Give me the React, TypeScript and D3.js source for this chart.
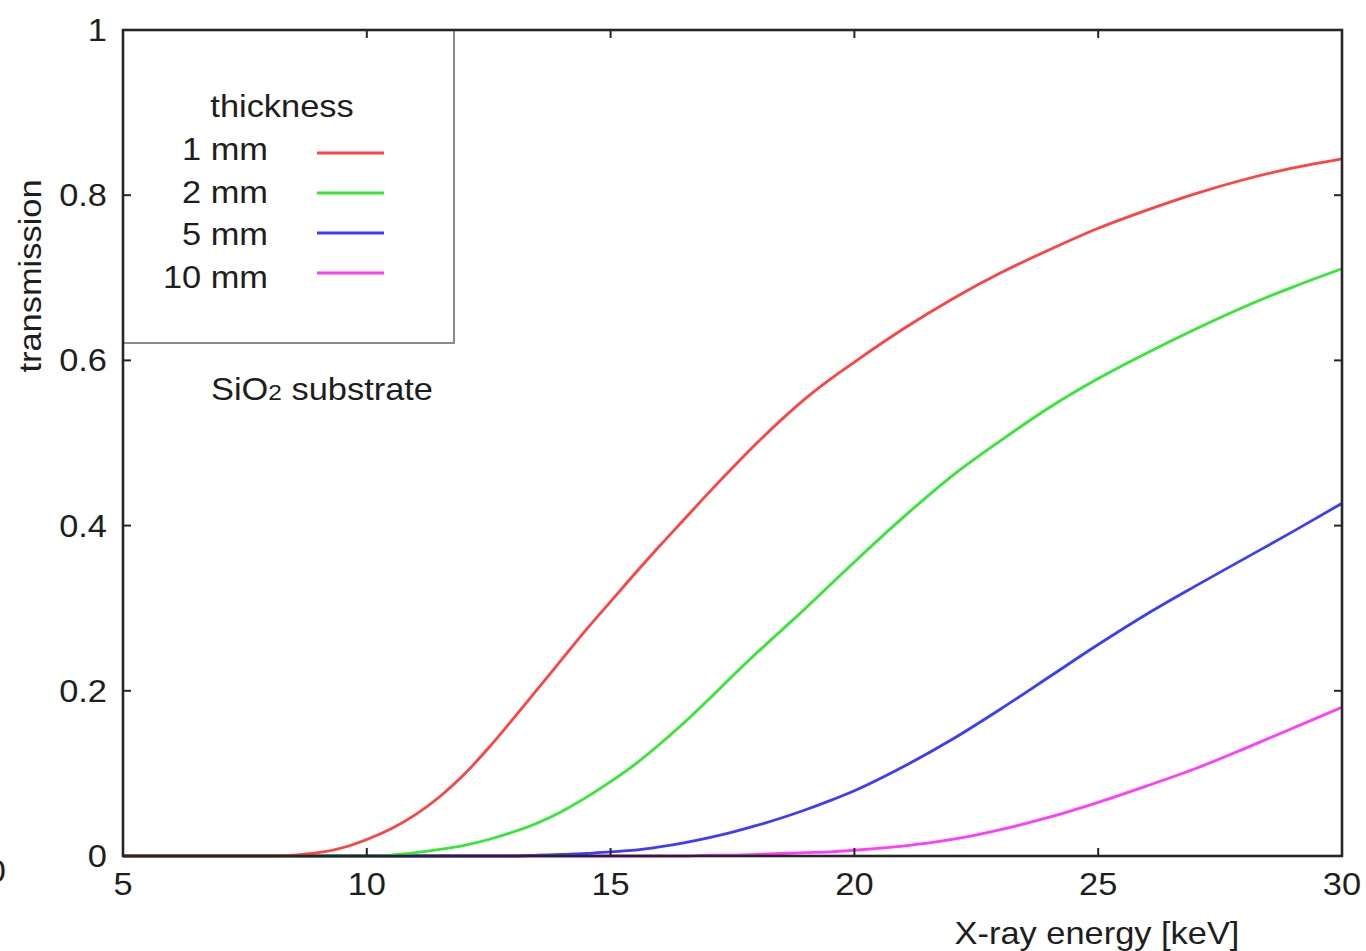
import React from "react";
import * as d3 from "d3";

const energy = [5, 6, 7, 8, 8.5, 9, 9.5, 10, 10.5, 11, 11.5, 12, 12.5, 13, 13.5, 14, 14.5, 15, 15.5, 16, 16.5, 17, 17.5, 18, 18.5, 19, 19.5, 20, 21, 22, 23, 24, 25, 26, 27, 28, 29, 30];

const t1mm = [0, 0, 0, 0, 0.001, 0.004, 0.01, 0.02, 0.033, 0.05, 0.072, 0.099, 0.131, 0.166, 0.202, 0.238, 0.274, 0.308, 0.342, 0.375, 0.407, 0.439, 0.47, 0.5, 0.528, 0.554, 0.577, 0.598, 0.638, 0.674, 0.706, 0.734, 0.76, 0.782, 0.802, 0.819, 0.833, 0.844];
const t2mm = [0, 0, 0, 0, 0, 0, 0, 0, 0.001, 0.004, 0.008, 0.013, 0.02, 0.029, 0.04, 0.054, 0.071, 0.09, 0.111, 0.135, 0.161, 0.189, 0.218, 0.246, 0.273, 0.3, 0.328, 0.356, 0.41, 0.46, 0.503, 0.543, 0.578, 0.609, 0.638, 0.665, 0.689, 0.711];
const t5mm = [0, 0, 0, 0, 0, 0, 0, 0, 0, 0, 0, 0, 0, 0, 0.001, 0.002, 0.003, 0.005, 0.007, 0.011, 0.016, 0.022, 0.029, 0.037, 0.046, 0.056, 0.067, 0.079, 0.108, 0.141, 0.178, 0.217, 0.256, 0.293, 0.327, 0.36, 0.393, 0.427];
const t10mm = [0, 0, 0, 0, 0, 0, 0, 0, 0, 0, 0, 0, 0, 0, 0, 0, 0, 0, 0, 0, 0, 0.001, 0.001, 0.002, 0.003, 0.004, 0.005, 0.007, 0.012, 0.02, 0.032, 0.047, 0.065, 0.085, 0.106, 0.13, 0.155, 0.18];

const seriesNames = ["1 mm", "2 mm", "5 mm", "10 mm"];
const seriesValues = [t1mm, t2mm, t5mm, t10mm];
const seriesColors = ["#ff4242", "#35e835", "#3c3cff", "#ff3cff"];

const xTicks = [5, 10, 15, 20, 25, 30];
const yTicks = [0, 0.2, 0.4, 0.6, 0.8, 1];
const yTickLabels = ["0", "0.2", "0.4", "0.6", "0.8", "1"];

const W = 1366;
const H = 951;
const L = 123, R = 1342, T = 30, B = 856;
const FONT = "'Liberation Sans', Arial, Helvetica, sans-serif";
const FS = 31;
const SX = 1.11;
const TXT = "#1e1e1e";

function Txt({ x, y, anchor = "start", size = FS, rotate = 0, children }: any) {
  return (
    <g transform={`translate(${x},${y}) rotate(${rotate}) scale(${SX},1)`}>
      <text x={0} y={0} textAnchor={anchor} fontSize={size} fontFamily={FONT} fill={TXT}>
        {children}
      </text>
    </g>
  );
}

export default function App() {
  const x = d3.scaleLinear().domain([5, 30]).range([L, R]);
  const y = d3.scaleLinear().domain([0, 1]).range([B, T]);
  const line = d3
    .line<number>()
    .x((_, i) => x(energy[i]))
    .y((d) => y(d))
    .curve(d3.curveMonotoneX);

  const tickLen = 8;
  const axisColor = "#262626";

  return (
    <svg width={W} height={H} style={{ position: "absolute", left: 0, top: 0, background: "#fff" }}>
      <rect x={0} y={0} width={W} height={H} fill="#fff" />
      {seriesValues
        .slice()
        .reverse()
        .map((vals, ri) => {
          const i = seriesValues.length - 1 - ri;
          return (
            <path key={i} d={line(vals) || ""} fill="none" stroke={seriesColors[i]} strokeWidth={2.8} strokeLinejoin="round" />
          );
        })}
      <path d={`M${L},343 H454 V${T}`} fill="none" stroke="#8c8c8c" strokeWidth={2} />
      <rect x={L} y={T} width={R - L} height={B - T} fill="none" stroke={axisColor} strokeWidth={2.6} />
      {xTicks.map((t) => (
        <g key={"xt" + t}>
          <line x1={x(t)} x2={x(t)} y1={B} y2={B - tickLen} stroke={axisColor} strokeWidth={2} />
          <line x1={x(t)} x2={x(t)} y1={T} y2={T + tickLen} stroke={axisColor} strokeWidth={2} />
        </g>
      ))}
      {yTicks.map((t) => (
        <g key={"yt" + t}>
          <line x1={L} x2={L + tickLen} y1={y(t)} y2={y(t)} stroke={axisColor} strokeWidth={2} />
          <line x1={R} x2={R - tickLen} y1={y(t)} y2={y(t)} stroke={axisColor} strokeWidth={2} />
        </g>
      ))}
      {xTicks.map((t) => (
        <Txt key={"xl" + t} x={x(t)} y={895} anchor="middle">
          {String(t)}
        </Txt>
      ))}
      {yTicks.map((t, i) => (
        <Txt key={"yl" + t} x={107} y={y(t) + 11} anchor="end">
          {yTickLabels[i]}
        </Txt>
      ))}
      <Txt x={6} y={882} anchor="end">0</Txt>
      <Txt x={1097} y={944} anchor="middle">X-ray energy [keV]</Txt>
      <Txt x={41} y={276} anchor="middle" rotate={-90}>transmission</Txt>
      <Txt x={282} y={117} anchor="middle">thickness</Txt>
      {seriesNames.map((n, i) => (
        <g key={"lg" + n}>
          <Txt x={268} y={160 + i * 42.5} anchor="end">
            {n}
          </Txt>
          <line x1={317} x2={384} y1={153 + i * 40} y2={153 + i * 40} stroke={seriesColors[i]} strokeWidth={2.8} />
        </g>
      ))}
      <g transform={`translate(211,400) scale(${SX},1)`}>
        <text x={0} y={0} fontSize={FS} fontFamily={FONT} fill={TXT}>
          SiO<tspan fontSize={22}>2</tspan> substrate
        </text>
      </g>
    </svg>
  );
}
